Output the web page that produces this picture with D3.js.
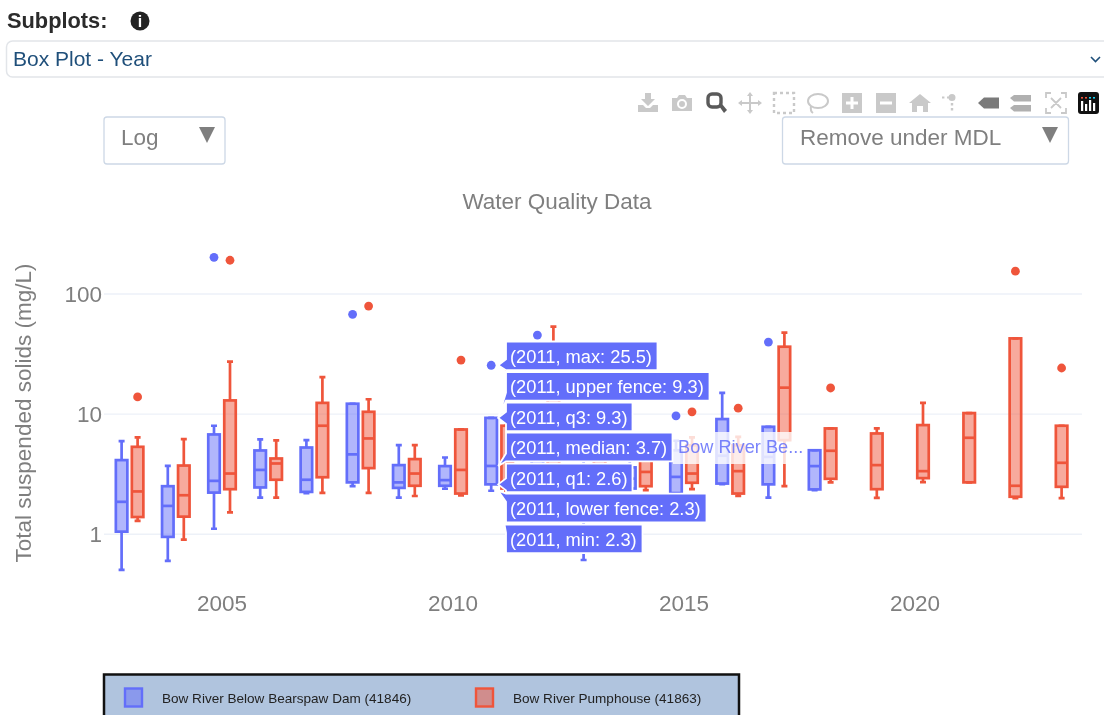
<!DOCTYPE html>
<html><head><meta charset="utf-8">
<script src="https://cdn.jsdelivr.net/npm/d3@7/dist/d3.min.js"></script>
<style>
html,body{margin:0;padding:0;background:#fff;overflow:hidden}
svg{display:block;filter:blur(.6px)}
text{font-family:"Liberation Sans",Arial,sans-serif}
</style></head><body>
<svg id="c" width="1104" height="715"></svg>
<script>
const chartTitle="Water Quality Data", yTitle="Total suspended solids (mg/L)";
const xTicks=[2005,2010,2015,2020], yTicks=[1,10,100];
const nameA="Bow River Below Bearspaw Dam (41846)", nameB="Bow River Pumphouse (41863)";
const colorA="#636efa", colorB="#ef553b";

const yearsA=[2003,2004,2005,2006,2007,2008,2009,2010,2011,2012,2013,2014,2015,2016,2017,2018];
const hiA =[5.96,3.71,8.0,6.15,6.07,12.2,5.52,4.35,9.3,6.0,5.0,4.4,6.0,15.05,7.84,5.0];
const q3A =[4.14,2.51,6.77,4.98,5.27,12.2,3.76,3.69,9.3,4.5,3.5,3.6,5.0,9.09,7.84,5.0];
const medA=[1.86,1.72,2.78,3.43,2.84,4.62,2.7,2.82,3.7,3.0,2.5,2.9,3.0,4.5,4.4,3.69];
const q1A =[1.05,0.95,2.22,2.45,2.25,2.7,2.43,2.53,2.6,2.5,1.5,2.4,2.2,2.64,2.6,2.36];
const loA =[0.504,0.6,1.11,2.02,2.2,2.51,2.02,2.39,2.3,2.0,0.61,2.2,2.0,2.61,2.02,2.33];
const outYearA=[2005,2008,2011,2012,2015,2017];
const outValA =[202,67.7,25.5,45.5,9.68,39.8];

const yearsB=[2003,2004,2005,2006,2007,2008,2009,2010,2011,2012,2013,2014,2015,2016,2017,2018,2019,2020,2021,2022,2023];
const hiB =[6.4,6.2,27.3,6.04,20.3,13.3,5.52,7.45,8.0,53.4,7.0,5.5,6.4,6.47,47.6,7.6,7.6,12.4,10.2,42.7,8.0];
const q3B =[5.34,3.73,13.0,4.27,12.4,10.45,4.22,7.45,8.0,15,5.0,4.5,5.5,5.5,36.4,7.6,6.9,8.1,10.2,42.7,8.0];
const medB=[2.27,2.11,3.2,3.88,8.0,6.27,3.2,3.43,4.0,5,3.2,3.3,3.2,3.35,16.6,4.95,3.76,3.35,6.35,2.53,3.93];
const q1B =[1.39,1.4,2.37,2.84,2.98,3.55,2.53,2.18,2.4,3,2.3,2.51,2.68,2.18,6.07,2.89,2.37,2.93,2.7,2.05,2.48];
const loB =[1.29,0.9,1.52,2.02,2.21,2.21,2.08,2.1,2.3,2.2,2.0,2.33,2.37,2.08,2.51,2.7,2.01,2.71,2.7,2.0,2.0];
const outYearB=[2003,2005,2008,2010,2011,2015,2016,2018,2022,2023];
const outValB =[13.9,191,79.4,28.2,25,10.45,11.2,16.5,155,24.2];

const hoverYear=2011;
const hoverNames=["max","upper fence","q3","median","q1","lower fence","min"];
const hoverVals=[25.5,9.3,9.3,3.7,2.6,2.3,2.3];
const hoverName="Bow River Be...";

const svg=d3.select("#c");
const x=d3.scaleLinear().domain([2005,2020]).range([222,915]);
const y=d3.scaleLog().domain([1,100]).range([534.2,294]);
const off=8, bw=11.5, capW=3, grey="#7f7f7f";

// header
svg.append("text").attr("x",7).attr("y",28).attr("font-size",21.8).attr("font-weight",700).attr("fill","#2b2b2b").text("Subplots:");
svg.append("circle").attr("cx",140).attr("cy",21).attr("r",9.5).attr("fill","#222");
svg.append("text").attr("x",140).attr("y",27).attr("text-anchor","middle").attr("font-size",16).attr("font-weight",700).attr("fill","#fff").text("i");
svg.append("rect").attr("x",6.5).attr("y",41).attr("width",1110).attr("height",36).attr("rx",6).attr("fill","#fff").attr("stroke","#e2e5e9").attr("stroke-width",1.5);
svg.append("text").attr("x",13).attr("y",66).attr("font-size",21).attr("fill","#1f4f7a").text("Box Plot - Year");
svg.append("path").attr("d","M1091,57l4.5,4.5l4.5,-4.5").attr("fill","none").attr("stroke","#1f4f7a").attr("stroke-width",1.6);

// toolbar
const tb=svg.append("g"), L="#c9c9c9", D="#5a5a5a";
function ic(cx,draw){const g=tb.append("g").attr("transform",`translate(${cx},103)`);draw(g);}
const P=(g,d,f=L)=>g.append("path").attr("d",d).attr("fill",f);
ic(648,g=>{P(g,"M-3,-10h6v6h4l-7,7l-7,-7h4z");P(g,"M-10,2h5l3,3h4l3,-3h5v7h-20z");});
ic(682,g=>{P(g,"M-10,-5h5l2,-3h6l2,3h5v13h-20z");g.append("circle").attr("r",4).attr("cy",1).attr("fill","none").attr("stroke","#fff").attr("stroke-width",2);});
ic(716,g=>{g.append("rect").attr("x",-8).attr("y",-9).attr("width",13).attr("height",13).attr("rx",4).attr("fill","none").attr("stroke",D).attr("stroke-width",3.4);P(g,"M3,3l3,-2l5,6l-3,3z",D);});
ic(750,g=>{g.append("path").attr("d","M0,-9V9M-10,0H10").attr("stroke",L).attr("stroke-width",2);P(g,"M-3,-7l3,-4l3,4zM-3,7l3,4l3,-4zM-8,-3l-4,3l4,3zM8,-3l4,3l-4,3z");});
ic(784,g=>g.append("rect").attr("x",-10).attr("y",-10).attr("width",20).attr("height",20).attr("fill","none").attr("stroke",L).attr("stroke-width",2.4).attr("stroke-dasharray","3 3"));
ic(818,g=>{g.append("ellipse").attr("rx",10).attr("ry",7).attr("cy",-2).attr("fill","none").attr("stroke",L).attr("stroke-width",2);g.append("path").attr("d","M-7,3q-1,5,2,7").attr("fill","none").attr("stroke",L).attr("stroke-width",2);});
ic(852,g=>{P(g,"M-10,-10h20v20h-20z");P(g,"M-1.5,-6h3v4.5h4.5v3h-4.5v4.5h-3v-4.5h-4.5v-3h4.5z","#fff");});
ic(886,g=>{P(g,"M-10,-10h20v20h-20z");P(g,"M-6,-1.5h12v3h-12z","#fff");});
ic(920,g=>{P(g,"M0,-9l11,9h-3v9h-5v-6h-6v6h-5v-9h-3z");});
ic(952,g=>{P(g,"M0,-9a3.5,3.5,0,1,1,0,7a3.5,3.5,0,1,1,0,-7z");P(g,"M-1.2,0h2.4v2.4h-2.4zM-1.2,5h2.4v2.4h-2.4zM-5,-6.5h2.4v2h-2.4zM-10,-6.5h2.4v2h-2.4z");});
ic(988,g=>P(g,"M-10,0l6,-5.5h15v11h-15z","#7a7a7a"));
ic(1021,g=>{P(g,"M-11,-5l4,-3h17v6.5h-17z","#b0b0b0");P(g,"M-11,5l4,-3h17v6.5h-17z","#b0b0b0");});
ic(1056,g=>{g.append("path").attr("d","M-10,-5v-5h5M5,-10h5v5M10,5v5h-5M-5,10h-5v-5M-5,-5L5,5M5,-5L-5,5").attr("fill","none").attr("stroke",L).attr("stroke-width",1.8);});
ic(1088,g=>{g.append("rect").attr("x",-10).attr("y",-11).attr("width",21).attr("height",22).attr("rx",3).attr("fill","#111");
 [[-6,"#ef553b"],[-2,"#ef553b"],[2,"#19d3f3"],[6,"#19d3f3"]].forEach(([v,c],i)=>{g.append("rect").attr("x",v-1).attr("y",-6).attr("width",2).attr("height",1.6).attr("fill",c);
 g.append("rect").attr("x",v-1).attr("y",[-2,1,-3,0][i]).attr("width",2.2).attr("height",[10,7,11,8][i]).attr("fill","#fff");});});

// dropdowns
const dropX=[104,782.5], dropW=[121,286], dropT=["Log","Remove under MDL"], dropTx=[121,800], dropArrow=[207,1050];
dropX.forEach((dx,i)=>{
 svg.append("rect").attr("x",dx).attr("y",117).attr("width",dropW[i]).attr("height",47).attr("rx",3).attr("fill","#fff").attr("stroke","#cdd8e6").attr("stroke-width",1.3);
 svg.append("text").attr("x",dropTx[i]).attr("y",145).attr("font-size",22.5).attr("fill",grey).text(dropT[i]);
 svg.append("path").attr("d",d3.line()([[dropArrow[i]-8,127],[dropArrow[i]+8,127],[dropArrow[i],143]])+"Z").attr("fill","#7f7f7f");
});

// title
svg.append("text").attr("x",557).attr("y",209).attr("text-anchor","middle").attr("font-size",22.5).attr("fill",grey).text(chartTitle);
svg.append("text").attr("transform","translate(31,413) rotate(-90)").attr("text-anchor","middle").attr("font-size",22.5).attr("fill",grey).text(yTitle);

// grid + axes
svg.append("g").selectAll("line").data(yTicks).join("line").attr("x1",104).attr("x2",1082).attr("y1",d=>y(d)).attr("y2",d=>y(d)).attr("stroke","#edf1f8").attr("stroke-width",1.4);
svg.append("g").selectAll("text").data(yTicks).join("text").attr("x",102).attr("y",d=>y(d)+8).attr("text-anchor","end").attr("font-size",22.5).attr("fill",grey).text(d=>d);
svg.append("g").selectAll("text").data(xTicks).join("text").attr("x",d=>x(d)).attr("y",611).attr("text-anchor","middle").attr("font-size",22.5).attr("fill",grey).text(d=>d);

// boxes
function series(years,hi,q3,med,q1,lo,oy,ov,color,dx){
 const g=svg.append("g"), rows=years.map((yr,i)=>({yr,hi:hi[i],q3:q3[i],med:med[i],q1:q1[i],lo:lo[i]}));
 const px=d=>x(d.yr)+dx;
 const b=g.selectAll("g").data(rows).join("g").attr("stroke",color).attr("stroke-width",2.7);
 b.append("path").attr("fill","none").attr("d",d=>`M${px(d)},${y(d.hi)}V${y(d.q3)}M${px(d)},${y(d.q1)}V${y(d.lo)}M${px(d)-capW},${y(d.hi)}h${2*capW}M${px(d)-capW},${y(d.lo)}h${2*capW}`);
 b.append("rect").attr("x",d=>px(d)-bw/2).attr("width",bw).attr("y",d=>y(d.q3)).attr("height",d=>y(d.q1)-y(d.q3)).attr("fill",color).attr("fill-opacity",.5);
 b.append("line").attr("x1",d=>px(d)-bw/2).attr("x2",d=>px(d)+bw/2).attr("y1",d=>y(d.med)).attr("y2",d=>y(d.med));
 g.selectAll("circle").data(oy).join("circle").attr("cx",d=>x(d)+dx).attr("cy",(d,i)=>y(ov[i])).attr("r",4.4).attr("fill",color);
}
series(yearsA,hiA,q3A,medA,q1A,loA,outYearA,outValA,colorA,-off);
series(yearsB,hiB,q3B,medB,q1B,loB,outYearB,outValB,colorB,off);

// name label
const lab=svg.append("g");
lab.append("rect").attr("x",673).attr("y",432).attr("width",133).attr("height",32).attr("fill","#fff").attr("fill-opacity",.8);
lab.append("text").attr("x",678).attr("y",453).attr("font-size",18.2).attr("fill",colorA).attr("fill-opacity",.85).text(hoverName);

// hover tooltips
const rowTop=[341.5,372,402.5,432.7,463.5,493.7,524.5], rowH=28.7, rowW=[151.5,203.5,126.5,166.5,126.5,200.5,136.5];
const tipX=x(hoverYear)-off+7, boxL=506;
hoverNames.forEach((n,i)=>{
 const top=rowTop[i], bot=top+rowH, ty=y(hoverVals[i]);
 let a=Math.max(top,Math.min(bot,ty-6)), b=Math.max(top,Math.min(bot,ty+6));
 if(b-a<6){ if(ty<top) b=a+8; else a=b-8; }
 const pts=[[tipX,ty],[boxL,a],[boxL,top],[boxL+rowW[i],top],[boxL+rowW[i],bot],[boxL,bot],[boxL,b]];
 svg.append("path").attr("d",d3.line()(pts)+"Z").attr("fill",colorA).attr("stroke","#fff").attr("stroke-width",1.8);
 svg.append("text").attr("x",510).attr("y",top+21).attr("font-size",18.3).attr("fill","#fff").text(`(${hoverYear}, ${n}: ${hoverVals[i]})`);
});

// legend
const lg=svg.append("g"), legX=[133,484], legTx=[162,513], legN=[nameA,nameB], legC=[colorA,colorB];
lg.append("rect").attr("x",104).attr("y",674.5).attr("width",635).attr("height",60).attr("fill","#b0c4de").attr("stroke","#111").attr("stroke-width",2.5);
legX.forEach((lx,i)=>{
 lg.append("rect").attr("x",lx-8).attr("y",688.5).attr("width",17).attr("height",18).attr("fill",legC[i]).attr("fill-opacity",.5).attr("stroke",legC[i]).attr("stroke-width",2.4);
 lg.append("text").attr("x",legTx[i]).attr("y",703).attr("font-size",13.55).attr("fill","#222").text(legN[i]);
});
</script></body></html>
